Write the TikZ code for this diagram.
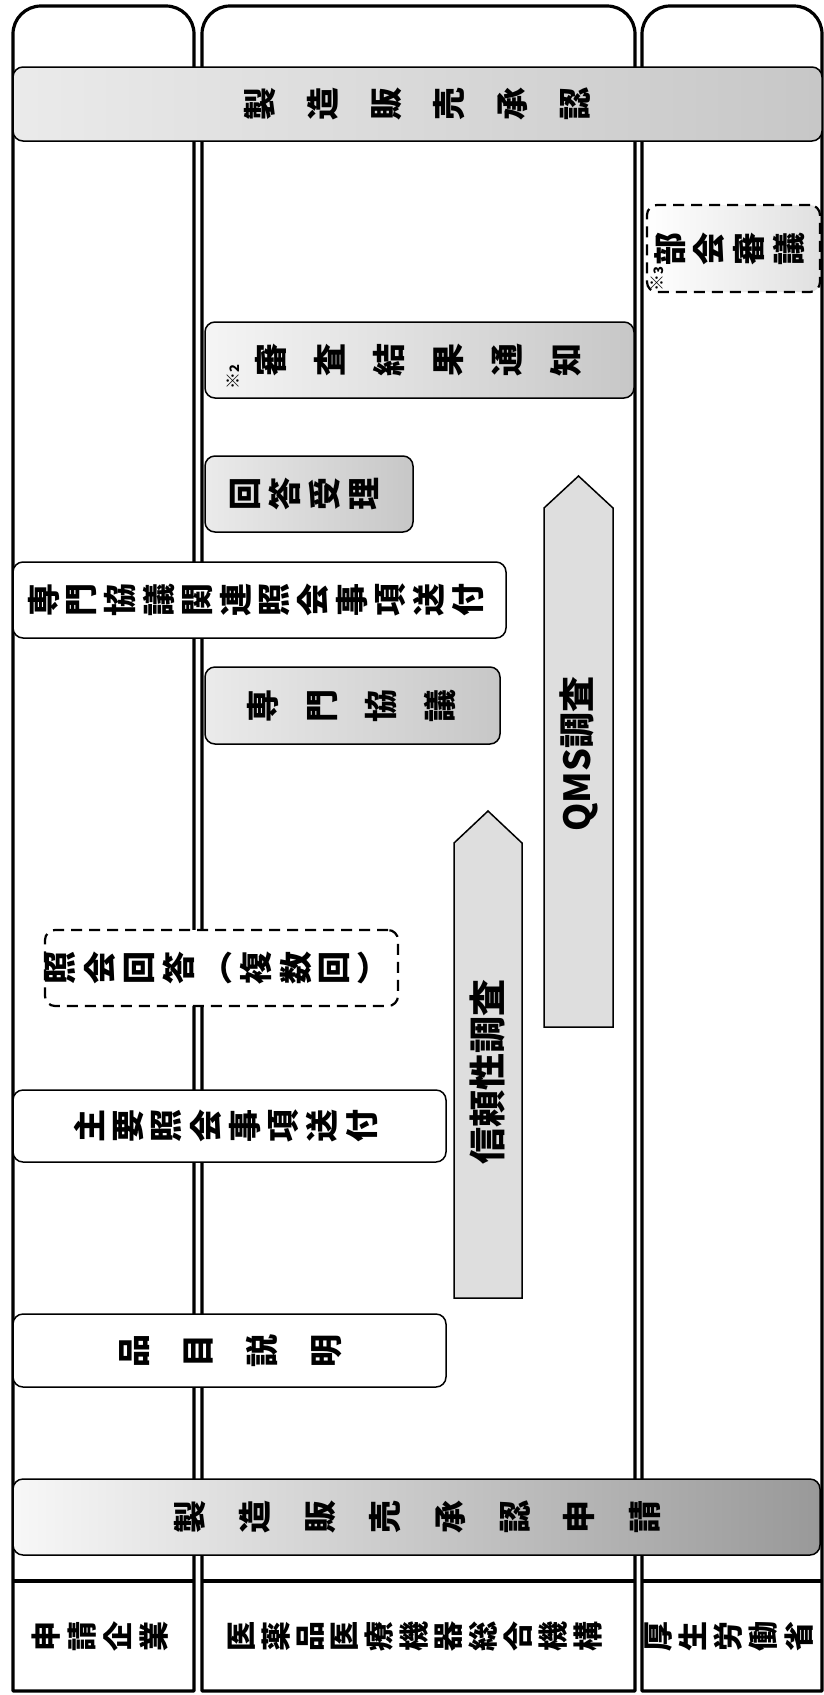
\documentclass[tikz,border=0pt]{standalone}
\usepackage{fontspec}
\setmainfont{Noto Sans CJK JP}
\usetikzlibrary{calc}
% vertical (tategaki) text, turned with the page
\newcommand{\tate}[3]{\rotatebox{90}{\fontsize{#1}{#2}\selectfont\begin{tabular}{@{}c@{}}#3\end{tabular}}}
% horizontal text, turned with the page
\newcommand{\yoko}[2]{\rotatebox{90}{\fontsize{#1}{#1}\selectfont #2}}

\begin{document}
\begin{tikzpicture}
                [x=1pt, y=-1pt,
                lsty/.style={line width=3.2pt, line join=round},
                bsty/.style={rectangle, rounded corners=10pt, draw, line width=1.5pt, fill=white, inner sep=0pt, font=\bfseries},
                gsty/.style={bsty, left color=black!8, right color=black!22},
                dsty/.style={bsty, line width=2.2pt, dash pattern=on 11pt off 7pt},
                psty/.style={draw, line width=1.5pt, fill=black!13, line join=miter},
                csty/.style={inner sep=0pt, font=\bfseries}]
                \useasboundingbox (0,0) rectangle (824,1695);
                % lanes
                \draw[lsty] (13,1691) -- (13,34) arc[start angle=180, end angle=270, radius=28] -- (166,6) arc[start angle=270, end angle=360, radius=28] -- (194,1691) -- cycle;
                \draw[lsty] (202,1691) -- (202,34) arc[start angle=180, end angle=270, radius=28] -- (607,6) arc[start angle=270, end angle=360, radius=28] -- (635,1691) -- cycle;
                \draw[lsty] (642,1691) -- (642,34) arc[start angle=180, end angle=270, radius=28] -- (794,6) arc[start angle=270, end angle=360, radius=28] -- (822,1691) -- cycle;
                \draw[lsty] (13,1581) -- (194,1581);
                \draw[lsty] (202,1581) -- (635,1581);
                \draw[lsty] (642,1581) -- (822,1581);
                % lane names
                \node[csty] (firm) at (103.5,1636) {\tate{30}{34}{申\\請\\企\\業}};
                \node[csty] (pmda) at (418.5,1636) {\tate{30}{31.5}{医\\薬\\品\\医\\療\\機\\器\\総\\合\\機\\構}};
                \node[csty] (mhlw) at (732,1636) {\tate{30}{32}{厚\\生\\労\\働\\省}};
                % arrows
                \draw[psty] (544,1027) -- (544,508) -- (578.5,476) -- (613,508) -- (613,1027) -- cycle;
                \node[csty] (qms) at (578.5,754) {\yoko{36}{QMS調査}};
                \draw[psty] (454,1298) -- (454,843) -- (488,811) -- (522,843) -- (522,1298) -- cycle;
                \node[csty] (gcp) at (488,1072) {\yoko{37}{信頼性調査}};
                % boxes
                \node[gsty, minimum width=809pt, minimum height=74pt] (appr) at (417.5,104) {\tate{33}{63}{製\\造\\販\\売\\承\\認}};
                \node[dsty, left color=white, right color=black!12, minimum width=173pt, minimum height=87pt] (bukai) at (733.5,248.5) {\tate{33}{38}{部\\会\\審\\議}};
                \node[csty] (note3) at (657,279) {\yoko{17}{※\fontsize{13}{13}\selectfont 3}};
                \node[gsty, left color=black!4, minimum width=429pt, minimum height=76pt] (result) at (419.5,360) {\tate{33}{59}{審\\査\\結\\果\\通\\知}};
                \node[csty] (note2) at (233,377) {\yoko{17}{※\fontsize{13}{13}\selectfont 2}};
                \node[gsty, minimum width=208pt, minimum height=76pt] (kaito) at (309,494) {\tate{33}{39}{回\\答\\受\\理}};
                \node[bsty, minimum width=493pt, minimum height=76pt] (senmonq) at (259.5,600) {\tate{33}{36}{専\\門\\協\\議\\関\\連\\照\\会\\事\\項\\送\\付}};
                \node[gsty, minimum width=295pt, minimum height=77pt] (senmon) at (352.5,705.5) {\tate{33}{59}{専\\門\\協\\議}};
                \node[dsty, minimum width=353pt, minimum height=76pt] (shokai) at (221.5,968) {\tate{33}{38}{照\\会\\回\\答\\︵\\複\\数\\回\\︶}};
                \node[bsty, minimum width=433pt, minimum height=72pt] (shuyo) at (229.5,1126) {\tate{33}{37}{主\\要\\照\\会\\事\\項\\送\\付}};
                \node[bsty, minimum width=433pt, minimum height=73pt] (hinmoku) at (229.5,1350.5) {\tate{33}{64}{品\\目\\説\\明}};
                \node[gsty, left color=black!3, right color=black!40, minimum width=807pt, minimum height=76pt] (shinsei) at (416.5,1517) {\tate{33}{65}{製\\造\\販\\売\\承\\認\\申\\請}};
            \end{tikzpicture}
\end{document}
